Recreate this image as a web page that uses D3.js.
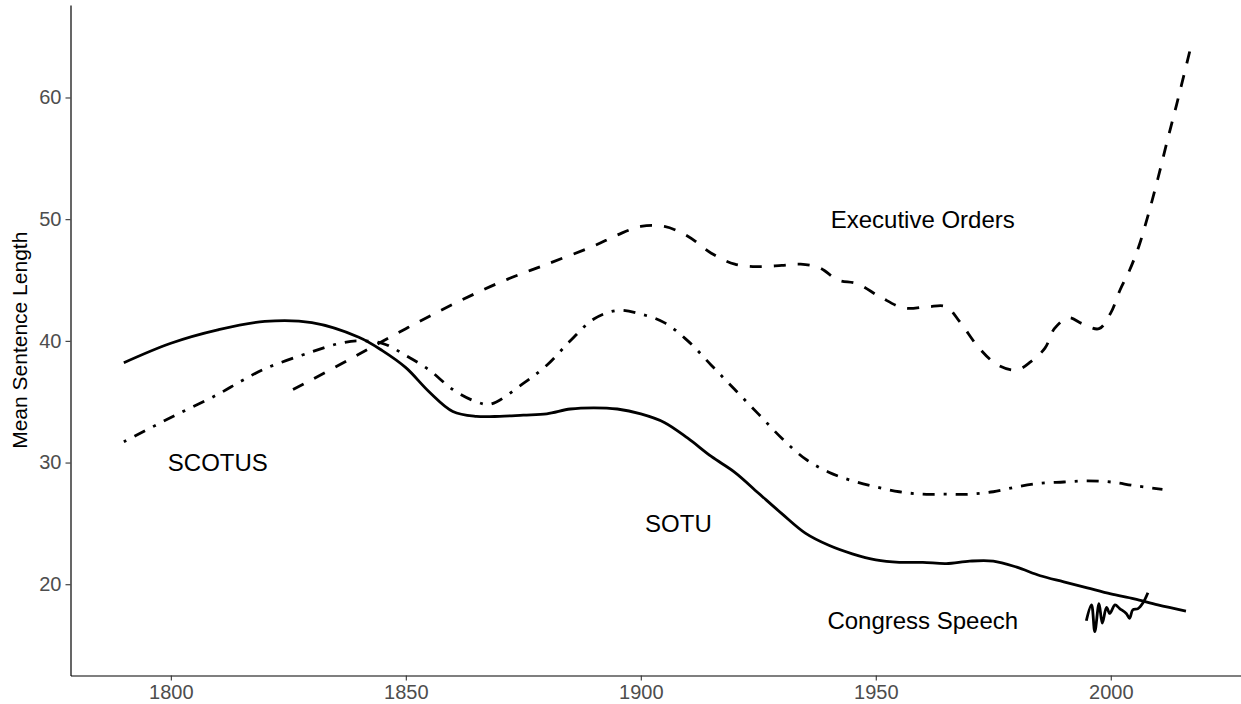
<!DOCTYPE html>
<html>
<head>
<meta charset="utf-8">
<script src="https://cdn.jsdelivr.net/npm/d3@7"></script>
<style>
  body { margin: 0; background: #fff; }
  text { font-family: "Liberation Sans", Arial, sans-serif; }
</style>
</head>
<body>
<script>
let width = 1241;
let height = 704;

// series (year, mean sentence length)
let sotuYears = [1790, 1800, 1810, 1820, 1830, 1840, 1845, 1850, 1855, 1860, 1865, 1870, 1875, 1880, 1885, 1890,
                 1895, 1900, 1905, 1910, 1915, 1920, 1925, 1930, 1935, 1940, 1945, 1950, 1955, 1960, 1965, 1970,
                 1975, 1980, 1985, 1990, 1995, 2000, 2005, 2010, 2016];
let sotuValues = [38.2, 39.8, 40.9, 41.6, 41.5, 40.3, 39.2, 37.8, 35.8, 34.2, 33.8, 33.8, 33.9, 34.0, 34.4, 34.5,
                  34.4, 34.0, 33.3, 32.0, 30.5, 29.2, 27.5, 25.8, 24.2, 23.2, 22.5, 22.0, 21.8, 21.8, 21.7, 21.9,
                  21.9, 21.4, 20.7, 20.2, 19.7, 19.2, 18.8, 18.3, 17.8];

let scotusYears = [1790, 1800, 1810, 1815, 1820, 1830, 1836, 1840, 1845, 1850, 1855, 1860, 1865, 1868, 1875, 1880,
                   1885, 1890, 1895, 1900, 1905, 1910, 1915, 1920, 1925, 1930, 1935, 1940, 1945, 1950, 1955, 1960,
                   1965, 1970, 1975, 1980, 1985, 1990, 1995, 2000, 2005, 2011];
let scotusValues = [31.7, 33.7, 35.6, 36.7, 37.7, 39.1, 39.8, 40.0, 39.8, 38.8, 37.6, 36.0, 35.0, 34.8, 36.5, 38.0,
                    40.0, 41.8, 42.5, 42.2, 41.5, 40.0, 38.0, 36.0, 34.0, 32.0, 30.3, 29.2, 28.5, 28.0, 27.6, 27.4,
                    27.4, 27.4, 27.6, 28.0, 28.3, 28.4, 28.5, 28.4, 28.1, 27.8];

let execYears = [1826, 1830, 1840, 1850, 1860, 1870, 1880, 1890, 1895, 1900, 1905, 1910, 1915, 1920, 1925, 1930,
                 1934, 1938, 1942, 1946, 1951, 1956, 1961, 1965, 1968, 1972, 1976, 1980, 1983, 1986, 1988, 1991,
                 1994, 1997.5, 2000, 2002, 2004, 2006, 2008, 2010, 2012, 2014, 2017];
let execValues = [36.0, 36.8, 38.9, 41.0, 43.0, 44.8, 46.3, 47.8, 48.7, 49.4, 49.4, 48.6, 47.2, 46.3, 46.1, 46.2,
                  46.3, 46.0, 45.0, 44.7, 43.6, 42.7, 42.8, 42.8, 41.5, 39.4, 38.0, 37.6, 38.3, 39.4, 41.0, 41.9,
                  41.4, 41.0, 42.3, 44.2, 45.8, 47.8, 50.4, 53.3, 56.4, 59.4, 64.1];

let congressYears = [1994.8, 1995.9, 1996.6, 1997.5, 1998.2, 1999.1, 1999.8, 2000.9, 2001.9, 2003.3, 2004.0, 2004.7,
                     2005.8, 2006.9, 2007.9];
let congressValues = [17.0, 18.3, 16.1, 18.4, 16.8, 18.1, 17.6, 18.3, 18.0, 17.6, 17.2, 17.9, 18.0, 18.5, 19.3];

// direct labels
let labelNames = ["SCOTUS", "SOTU", "Executive Orders", "Congress Speech"];
let labelYears = [1810, 1908, 1960, 1960];
let labelValues = [30.0, 25.0, 50.0, 17.0];

let xTicks = [1800, 1850, 1900, 1950, 2000];
let yTicks = [20, 30, 40, 50, 60];

let svg = d3.select("body").append("svg")
                           .attr("width", width)
                           .attr("height", height);

let margin = {left: 70.5, bottom: 675.5, top: 5, right: 1244};

let x = d3.scaleLinear()
          .domain([1778.65, 2028.35])
          .range([margin.left, margin.right]);

let y = d3.scaleLinear()
          .domain([12.5, 67.6])
          .range([margin.bottom, margin.top]);


function toPoints(years, values) {
  return years.map(function(yr, i) { return [yr, values[i]]; });
}


let line = d3.line()
             .x(function(d) { return x(d[0]); })
             .y(function(d) { return y(d[1]); })
             .curve(d3.curveCatmullRom.alpha(0.5));

let series = [
  {points: toPoints(sotuYears, sotuValues), dash: null},
  {points: toPoints(scotusYears, scotusValues), dash: "3,9,12,9"},
  {points: toPoints(execYears, execValues), dash: "12,12"},
  {points: toPoints(congressYears, congressValues), dash: null},
];

svg.append("g")
   .selectAll("path")
   .data(series)
   .enter().append("path")
   .attr("d", function(d) { return line(d.points); })
   .attr("fill", "none")
   .attr("stroke", "#000")
   .attr("stroke-width", 2.8)
   .attr("stroke-dasharray", function(d) { return d.dash; });

// axes
let xAxis = svg.append("g")
               .attr("transform", "translate(0," + margin.bottom + ")")
               .call(d3.axisBottom(x).tickValues(xTicks).tickFormat(d3.format("d")).tickSizeInner(5).tickSizeOuter(0).tickPadding(4));

let yAxis = svg.append("g")
               .attr("transform", "translate(" + margin.left + ",0)")
               .call(d3.axisLeft(y).tickValues(yTicks).tickSizeInner(5).tickSizeOuter(0).tickPadding(4));

[xAxis, yAxis].forEach(function(ax) {
  ax.select(".domain").attr("stroke", "#000").attr("stroke-width", 1.2);
  ax.selectAll(".tick line").attr("stroke", "#333").attr("stroke-width", 1.1);
  ax.selectAll(".tick text")
    .attr("fill", "#4d4d4d")
    .style("font-size", "20px")
    .style("font-family", "'Liberation Sans', Arial, sans-serif");
});

svg.append("text")
   .attr("transform", "translate(19," + (margin.top + margin.bottom) / 2 + ") rotate(-90)")
   .attr("text-anchor", "middle")
   .attr("dominant-baseline", "central")
   .style("font-size", "21px")
   .text("Mean Sentence Length");

svg.append("g")
   .selectAll("text")
   .data(labelNames)
   .enter().append("text")
   .attr("x", function(d, i) { return x(labelYears[i]); })
   .attr("y", function(d, i) { return y(labelValues[i]); })
   .attr("text-anchor", "middle")
   .attr("dominant-baseline", "central")
   .style("font-size", "24px")
   .attr("fill", "#000")
   .text(function(d) { return d; });
</script>
</body>
</html>
